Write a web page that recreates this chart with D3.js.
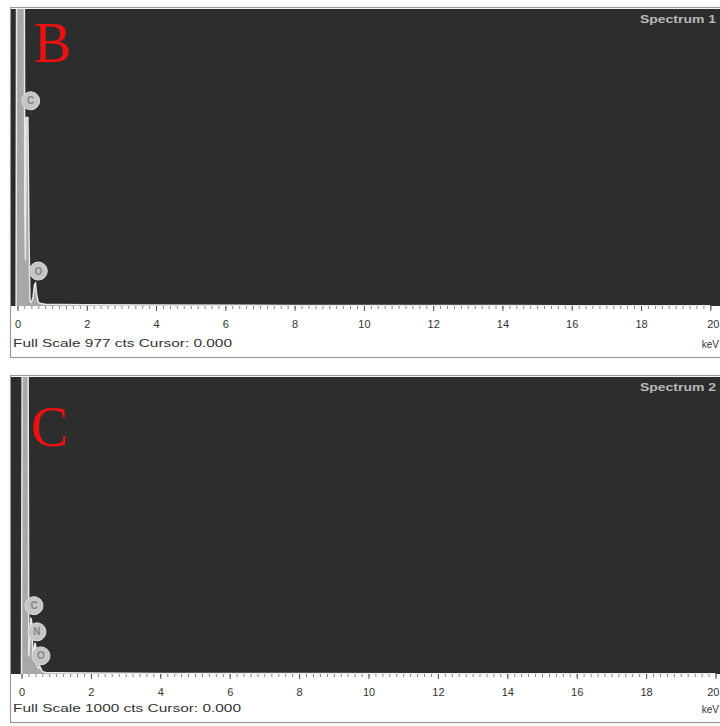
<!DOCTYPE html>
<html>
<head>
<meta charset="utf-8">
<script src="https://cdn.jsdelivr.net/npm/d3@7"></script>
<style>
  html, body { margin: 0; padding: 0; background: #ffffff; }
  svg { display: block; }
</style>
</head>
<body>
<svg id="chart" width="720" height="726"></svg>
<script>
// ---------------- data ----------------
const tickLabels = ["0", "2", "4", "6", "8", "10", "12", "14", "16", "18", "20"];
const tickValuesMajor = [0, 2, 4, 6, 8, 10, 12, 14, 16, 18, 20];

// Spectrum 1 (panel B)
const specB_keV = [-0.04, -0.02, 0.02, 0.15, 0.19, 0.21, 0.23, 0.25, 0.30, 0.33, 0.36, 0.40, 0.45, 0.49, 0.52, 0.55, 0.60, 0.68, 0.8, 1.2, 2, 4, 8, 12, 16, 20];
const specB_cts = [0, 1600, 1600, 1600, 1600, 300, 150, 620, 620, 250, 15, 12, 30, 70, 75, 40, 12, 8, 6, 5, 4, 3, 2, 2, 1, 1];
const labelsB_el  = ["C", "O"];
const labelsB_keV = [0.38, 0.60];
const labelsB_cts = [675, 115];

// Spectrum 2 (panel C)
const specC_keV = [0, 0.03, 0.06, 0.15, 0.18, 0.21, 0.24, 0.27, 0.30, 0.33, 0.36, 0.39, 0.42, 0.45, 0.49, 0.52, 0.55, 0.6, 0.7, 1.0, 2, 4, 8, 12, 16, 20];
const specC_cts = [0, 1600, 1600, 1600, 1600, 60, 120, 190, 170, 60, 80, 105, 90, 30, 20, 27, 20, 8, 5, 4, 3, 2, 2, 1, 1, 1];
const labelsC_el  = ["C", "N", "O"];
const labelsC_keV = [0.36, 0.445, 0.56];
const labelsC_cts = [230, 142, 61];

const panels = [
  { letter: "B", title: "Spectrum 1", fullScale: 977, keV: specB_keV, cts: specB_cts,
    lEl: labelsB_el, lKeV: labelsB_keV, lCts: labelsB_cts,
    frameX: 10, frameTop: 8, plotBottom: 306, frameBottom: 357,
    x0: 17.5, x20: 710.3, letterX: 34, letterY: 62, footer: "Full Scale 977 cts Cursor: 0.000", footW: 219 },
  { letter: "C", title: "Spectrum 2", fullScale: 1000, keV: specC_keV, cts: specC_cts,
    lEl: labelsC_el, lKeV: labelsC_keV, lCts: labelsC_cts,
    frameX: 10, frameTop: 376, plotBottom: 674, frameBottom: 722,
    x0: 21.5, x20: 715.5, letterX: 31, letterY: 446, footer: "Full Scale 1000 cts Cursor: 0.000", footW: 228 }
];

const svg = d3.select("#chart");

panels.forEach((p, i) => {
  const g = svg.append("g");
  const W = 720 - p.frameX + 5;

  // frame (white box with grey border)
  g.append("rect")
    .attr("x", p.frameX + 0.5).attr("y", p.frameTop - 0.5)
    .attr("width", W).attr("height", p.frameBottom - p.frameTop + 1)
    .attr("fill", "#ffffff").attr("stroke", "#9a9a9a").attr("stroke-width", 1.2);

  // dark plot area
  const plotTop = p.frameTop + 1;
  g.append("rect")
    .attr("x", p.frameX + 1).attr("y", plotTop)
    .attr("width", W).attr("height", p.plotBottom - plotTop)
    .attr("fill", "#2d2d2d");

  const x = d3.scaleLinear().domain([0, 20]).range([p.x0, p.x20]);
  const y = d3.scaleLinear().domain([0, p.fullScale]).range([p.plotBottom, plotTop]);

  const clipId = "clip" + i;
  g.append("clipPath").attr("id", clipId).append("rect")
    .attr("x", p.frameX + 1).attr("y", plotTop)
    .attr("width", W).attr("height", p.plotBottom - plotTop);

  const pts = p.keV.map((k, j) => [k, p.cts[j]]);
  const area = d3.area().x(d => x(d[0])).y0(p.plotBottom).y1(d => y(d[1]));
  const line = d3.line().x(d => x(d[0])).y(d => y(d[1]));
  const sg = g.append("g").attr("clip-path", `url(#${clipId})`);
  sg.append("path").datum(pts).attr("d", area).attr("fill", "#a8a8a8");
  sg.append("path").datum(pts).attr("d", line).attr("fill", "none")
    .attr("stroke", "#e8e8e8").attr("stroke-width", 1.5);

  // peak labels
  const labs = p.lEl.map((e, j) => ({ e, k: p.lKeV[j], c: p.lCts[j] }));
  const lg = sg.selectAll("g.lab").data(labs).join("g").attr("class", "lab")
    .attr("transform", d => `translate(${x(d.k)},${y(d.c)})`);
  lg.append("circle").attr("r", 9).attr("fill", "#c6c6c6").attr("stroke", "#dcdcdc").attr("stroke-width", 1);
  lg.append("text").text(d => d.e).attr("text-anchor", "middle").attr("dy", "0.36em")
    .attr("font-family", "Liberation Sans, Arial, sans-serif").attr("font-size", 10).attr("font-weight", "bold")
    .attr("fill", "#858585");

  // big red letter
  g.append("text").text(p.letter).attr("x", p.letterX).attr("y", p.letterY)
    .attr("font-family", "Liberation Serif, 'Times New Roman', serif").attr("font-size", 56)
    .attr("fill", "#ee1111");

  // spectrum title
  g.append("text").text(p.title).attr("x", 716).attr("y", p.frameTop + 15)
    .attr("text-anchor", "end").attr("textLength", 76).attr("lengthAdjust", "spacingAndGlyphs")
    .attr("font-family", "Liberation Sans, Arial, sans-serif").attr("font-size", 11).attr("font-weight", "bold")
    .attr("fill", "#b8b8b8");

  // axis: minor ticks
  const minor = d3.range(0, 20.001, 0.2).map(v => +v.toFixed(1));
  const axMinor = d3.axisBottom(x).tickValues(minor).tickSize(3).tickFormat("");
  const ga = g.append("g").attr("transform", `translate(0,${p.plotBottom})`).call(axMinor);
  ga.select(".domain").remove();
  ga.selectAll("line").attr("stroke", "#666").attr("stroke-width", 0.8);

  const axMajor = d3.axisBottom(x).tickValues(tickValuesMajor).tickSize(5)
    .tickFormat((d, j) => tickLabels[j]).tickPadding(9);
  const gb = g.append("g").attr("transform", `translate(0,${p.plotBottom})`).call(axMajor);
  gb.select(".domain").remove();
  gb.selectAll("line").attr("stroke", "#555").attr("stroke-width", 1);
  gb.selectAll("text").attr("font-family", "Liberation Sans, Arial, sans-serif")
    .attr("font-size", 11).attr("fill", "#333");
  // keep the last label inside the window
  gb.selectAll("text").filter(d => d === 20).attr("text-anchor", "end").attr("x", 719 - x(20));

  // footer texts
  g.append("text").text(p.footer).attr("x", p.frameX + 3).attr("y", p.frameBottom - 10)
    .attr("textLength", p.footW).attr("lengthAdjust", "spacingAndGlyphs")
    .attr("font-family", "Liberation Sans, Arial, sans-serif").attr("font-size", 11).attr("fill", "#333");
  g.append("text").text("keV").attr("x", 719).attr("y", p.frameBottom - 9)
    .attr("text-anchor", "end")
    .attr("font-family", "Liberation Sans, Arial, sans-serif").attr("font-size", 10).attr("fill", "#333");
});
</script>
</body>
</html>
